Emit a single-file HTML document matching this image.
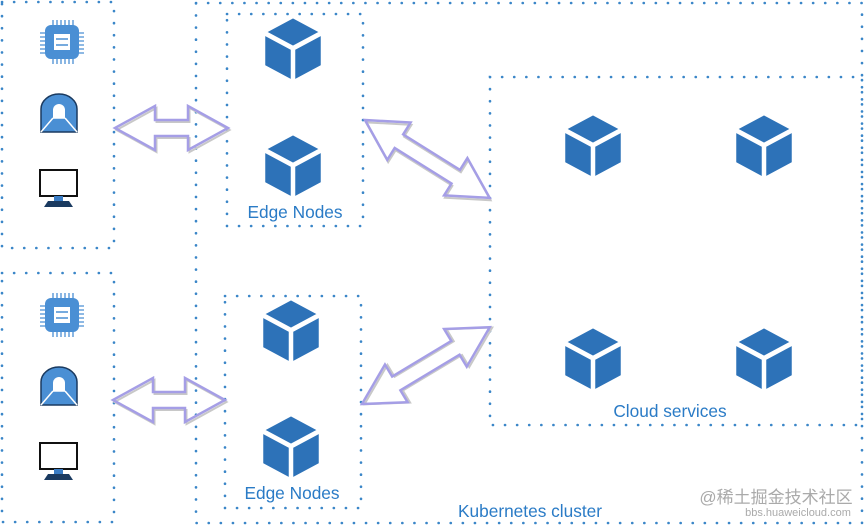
<!DOCTYPE html>
<html><head><meta charset="utf-8"><style>
html,body{margin:0;padding:0;background:#fff;}
svg{display:block;}
text{font-family:"Liberation Sans",sans-serif;font-size:17.3px;fill:#2a7bc6;}
</style></head><body>
<svg width="865" height="526" viewBox="0 0 865 526" xmlns="http://www.w3.org/2000/svg">
<defs>
<g id="cube">
 <polygon points="0,-31 28,-16 0,-1 -28,-16" fill="#2d72b8" stroke="#fff" stroke-width="2.5" stroke-linejoin="round"/>
 <polygon points="-29,-14 -1,1 -1,33 -29,18" fill="#2d72b8" stroke="#fff" stroke-width="2.5" stroke-linejoin="round"/>
 <polygon points="29,-14 1,1 1,33 29,18" fill="#2d72b8" stroke="#fff" stroke-width="2.5" stroke-linejoin="round"/>
</g>
<g id="chip">
 <g stroke="#4a8fd4" stroke-width="1.3">
  <path d="M-9,-22v8M-5,-22v8M-1,-22v8M3,-22v8M7,-22v8M11,-22v8"/>
  <path d="M-9,14v8M-5,14v8M-1,14v8M3,14v8M7,14v8M11,14v8"/>
  <path d="M-22,-9h8M-22,-5h8M-22,-1h8M-22,3h8M-22,7h8M-22,11h8"/>
  <path d="M14,-9h8M14,-5h8M14,-1h8M14,3h8M14,7h8M14,11h8"/>
 </g>
 <rect x="-17" y="-17" width="34" height="34" rx="6" fill="#4a8fd4"/>
 <rect x="-8" y="-8" width="16" height="16" fill="#fff"/>
 <path d="M-6,-3h12M-6,3h12" stroke="#4a8fd4" stroke-width="1.5"/>
</g>
<g id="tunnel">
 <path d="M-18,19 V-4 A18,15 0 0 1 18,-4 V19 Z" fill="#4a8fd4" stroke="#1a3a60" stroke-width="1.5"/>
 <path d="M-6,5 V-3 A6,6 0 0 1 6,-3 V5 Z" fill="#fff"/>
 <path d="M-6,5 L-18,19 M6,5 L18,19 M-6,5 H6" stroke="#fff" stroke-width="1.5"/>
</g>
<g id="mon">
 <rect x="-18" y="-15" width="37" height="26" fill="#fff" stroke="#111" stroke-width="2"/>
 <rect x="-4" y="11" width="9" height="5" fill="#3a7cc4"/>
 <path d="M-14,22 L-10,16 H11 L15,22 Z" fill="#1a3a60"/>
</g>
</defs>

<g fill="none" stroke="#3a86c8" stroke-width="2.6" stroke-linecap="round" stroke-dasharray="0.1 12">
 <rect x="2" y="2" width="112" height="246"/>
 <rect x="2" y="273" width="112" height="249"/>
 <rect x="196" y="3" width="666" height="520"/>
 <rect x="227" y="14" width="136" height="212"/>
 <rect x="225" y="296" width="136" height="212"/>
 <rect x="490" y="77" width="372" height="348"/>
</g>

<use href="#chip" x="62" y="42"/>
<use href="#tunnel" x="59" y="113"/>
<use href="#mon" x="58" y="185"/>
<use href="#chip" x="62" y="315"/>
<use href="#tunnel" x="59" y="386"/>
<use href="#mon" x="58" y="458"/>

<use href="#cube" x="293" y="48"/>
<use href="#cube" x="293" y="165"/>
<use href="#cube" x="291" y="330"/>
<use href="#cube" x="291" y="446"/>
<use href="#cube" x="593" y="145"/>
<use href="#cube" x="764" y="145"/>
<use href="#cube" x="593" y="358"/>
<use href="#cube" x="764" y="358"/>

<g fill="none" stroke-linejoin="miter">
 <g transform="translate(115,128)">
  <polygon transform="translate(1.5,2)" points="0,0 40,-22 40,-8 73,-8 73,-22 113,0 73,22 73,8 40,8 40,22" stroke="#c8c8c8" stroke-width="2"/>
  <polygon points="0,0 40,-22 40,-8 73,-8 73,-22 113,0 73,22 73,8 40,8 40,22" stroke="#a59ee6" stroke-width="2.5"/>
 </g>
 <g transform="translate(113,400)">
  <polygon transform="translate(1.5,2)" points="0,0 40,-22 40,-8 72,-8 72,-22 112,0 72,22 72,8 40,8 40,22" stroke="#c8c8c8" stroke-width="2"/>
  <polygon points="0,0 40,-22 40,-8 72,-8 72,-22 112,0 72,22 72,8 40,8 40,22" stroke="#a59ee6" stroke-width="2.5"/>
 </g>
 <g transform="translate(365,120) rotate(32)">
  <polygon transform="translate(2,1.5)" points="0,0 40,-22 40,-8 107,-8 107,-22 147,0 107,22 107,8 40,8 40,22" stroke="#c8c8c8" stroke-width="2"/>
  <polygon points="0,0 40,-22 40,-8 107,-8 107,-22 147,0 107,22 107,8 40,8 40,22" stroke="#a59ee6" stroke-width="2.5"/>
 </g>
 <g transform="translate(362,404) rotate(-31)">
  <polygon transform="translate(2,1.5)" points="0,0 40,-22 40,-8 109,-8 109,-22 149,0 109,22 109,8 40,8 40,22" stroke="#c8c8c8" stroke-width="2"/>
  <polygon points="0,0 40,-22 40,-8 109,-8 109,-22 149,0 109,22 109,8 40,8 40,22" stroke="#a59ee6" stroke-width="2.5"/>
 </g>
</g>

<text x="295" y="218" text-anchor="middle">Edge Nodes</text>
<text x="292" y="499" text-anchor="middle">Edge Nodes</text>
<text x="670" y="417" text-anchor="middle">Cloud services</text>
<text x="530" y="517" text-anchor="middle">Kubernetes cluster</text>
<text x="776" y="503" text-anchor="middle" style="font-family:'Liberation Sans','Noto Sans CJK SC',sans-serif;font-size:17px;fill:#aaa">@稀土掘金技术社区</text>
<text x="798" y="516" text-anchor="middle" style="font-size:11px;fill:#aaa">bbs.huaweicloud.com</text>
</svg>
</body></html>
